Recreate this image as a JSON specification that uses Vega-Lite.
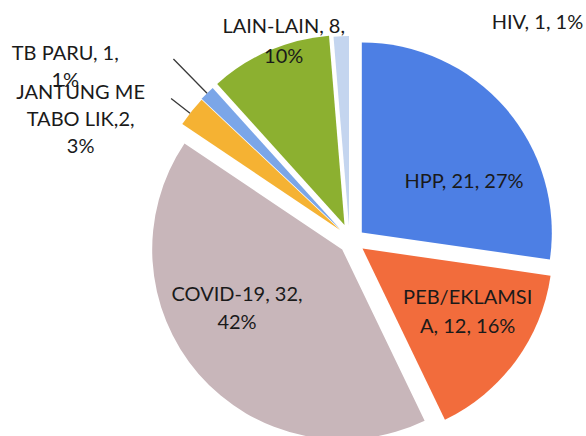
{
  "$schema": "https://vega.github.io/schema/vega-lite/v6.json",
  "width": 380,
  "height": 380,
  "autosize": {"type": "none"},
  "padding": {"left": 162, "top": 51, "right": 44, "bottom": 5},
  "background": "white",
  "config": {"view": {"stroke": null}, "text": {"font": "Lato", "fontSize": 20, "align": "center", "baseline": "middle", "lineBreak": "\n"}},
  "data": {
    "values": [
      {"cause": "HPP", "count": 21, "label": "HPP, 21, 27%"},
      {"cause": "PEB/EKLAMSIA", "count": 12, "label": "PEB/EKLAMSI\nA, 12, 16%"},
      {"cause": "COVID-19", "count": 32, "label": "COVID-19, 32,\n42%"},
      {"cause": "JANTUNG METABOLIK", "count": 2, "label": "JANTUNG ME\nTABO LIK,2,\n3%"},
      {"cause": "TB PARU", "count": 1, "label": "TB PARU, 1,\n1%"},
      {"cause": "LAIN-LAIN", "count": 8, "label": "LAIN-LAIN, 8,\n10%"},
      {"cause": "HIV", "count": 1, "label": "HIV, 1, 1%"}
    ]
  },
  "transform": [
    {"stack": "count", "groupby": [], "as": ["t0", "t1"]},
    {"calculate": "(datum.t0 + datum.t1) / 2", "as": "tm"}
  ],
  "encoding": {
    "color": {
      "field": "cause",
      "type": "nominal",
      "scale": {
        "domain": ["HPP", "PEB/EKLAMSIA", "COVID-19", "JANTUNG METABOLIK", "TB PARU", "LAIN-LAIN", "HIV"],
        "range": ["#4d7fe4", "#f26c3c", "#c8b6ba", "#f5b233", "#7ba6e8", "#8cb030", "#c4d5ef"]
      },
      "legend": null
    }
  },
  "layer": [
    {
      "transform": [{"filter": "datum.cause === 'HPP'"}],
      "layer": [
        {"mark": {"type": "arc", "radius": 190, "xOffset": 9.8, "yOffset": -8.5},
         "encoding": {"theta": {"field": "t0", "type": "quantitative", "stack": null, "scale": {"domain": [0, 77]}}, "theta2": {"field": "t1"}}},
        {"mark": {"type": "text", "radius": 123, "dx": 19, "dy": 22, "lineHeight": 28},
         "encoding": {"theta": {"field": "tm", "type": "quantitative", "stack": null, "scale": {"domain": [0, 77]}}, "text": {"field": "label"}, "color": {"value": "#1a1a1a"}}}
      ]
    },
    {
      "transform": [{"filter": "datum.cause === 'PEB/EKLAMSIA'"}],
      "layer": [
        {"mark": {"type": "arc", "radius": 190, "xOffset": 10.5, "yOffset": 7.6},
         "encoding": {"theta": {"field": "t0", "type": "quantitative", "stack": null, "scale": {"domain": [0, 77]}}, "theta2": {"field": "t1"}}},
        {"mark": {"type": "text", "radius": 136, "dx": 6, "dy": -23, "lineHeight": 29},
         "encoding": {"theta": {"field": "tm", "type": "quantitative", "stack": null, "scale": {"domain": [0, 77]}}, "text": {"field": "label"}, "color": {"value": "#1a1a1a"}}}
      ]
    },
    {
      "transform": [{"filter": "datum.cause === 'COVID-19'"}],
      "layer": [
        {"mark": {"type": "arc", "radius": 190, "xOffset": -9.8, "yOffset": 8.5},
         "encoding": {"theta": {"field": "t0", "type": "quantitative", "stack": null, "scale": {"domain": [0, 77]}}, "theta2": {"field": "t1"}}},
        {"mark": {"type": "text", "radius": 131, "dx": -16, "dy": -32, "lineHeight": 28},
         "encoding": {"theta": {"field": "tm", "type": "quantitative", "stack": null, "scale": {"domain": [0, 77]}}, "text": {"field": "label"}, "color": {"value": "#1a1a1a"}}}
      ]
    },
    {
      "transform": [{"filter": "datum.cause === 'JANTUNG METABOLIK'"}],
      "layer": [
        {"mark": {"type": "arc", "radius": 190, "xOffset": -12, "yOffset": -11},
         "encoding": {"theta": {"field": "t0", "type": "quantitative", "stack": null, "scale": {"domain": [0, 77]}}, "theta2": {"field": "t1"}}},
        {"mark": {"type": "arc", "radius": 214, "radius2": 190, "filled": false, "strokeWidth": 1.3, "thetaOffset": -0.012, "theta2Offset": -0.012, "xOffset": -12, "yOffset": -11},
         "encoding": {"theta": {"field": "tm", "type": "quantitative", "stack": null, "scale": {"domain": [0, 77]}}, "theta2": {"field": "tm"}, "color": {"value": "#3a3a3a"}}},
        {"mark": {"type": "text", "radius": 287, "dx": -47, "dy": 31, "lineHeight": 27},
         "encoding": {"theta": {"field": "tm", "type": "quantitative", "stack": null, "scale": {"domain": [0, 77]}}, "text": {"field": "label"}, "color": {"value": "#1a1a1a"}}}
      ]
    },
    {
      "transform": [{"filter": "datum.cause === 'TB PARU'"}],
      "layer": [
        {"mark": {"type": "arc", "radius": 190, "xOffset": -12, "yOffset": -12},
         "encoding": {"theta": {"field": "t0", "type": "quantitative", "stack": null, "scale": {"domain": [0, 77]}}, "theta2": {"field": "t1"}}},
        {"mark": {"type": "arc", "radius": 238, "radius2": 190, "filled": false, "strokeWidth": 1.3, "xOffset": -12, "yOffset": -12},
         "encoding": {"theta": {"field": "tm", "type": "quantitative", "stack": null, "scale": {"domain": [0, 77]}}, "theta2": {"field": "tm"}, "color": {"value": "#3a3a3a"}}},
        {"mark": {"type": "text", "radius": 324, "dx": -60, "dy": 44, "lineHeight": 27},
         "encoding": {"theta": {"field": "tm", "type": "quantitative", "stack": null, "scale": {"domain": [0, 77]}}, "text": {"field": "label"}, "color": {"value": "#1a1a1a"}}}
      ]
    },
    {
      "transform": [{"filter": "datum.cause === 'LAIN-LAIN'"}],
      "layer": [
        {"mark": {"type": "arc", "radius": 190, "xOffset": -7.5, "yOffset": -16},
         "encoding": {"theta": {"field": "t0", "type": "quantitative", "stack": null, "scale": {"domain": [0, 77]}}, "theta2": {"field": "t1"}}},
        {"mark": {"type": "text", "radius": 210, "dx": 15, "dy": -21, "lineHeight": 30},
         "encoding": {"theta": {"field": "tm", "type": "quantitative", "stack": null, "scale": {"domain": [0, 77]}}, "text": {"field": "label"}, "color": {"value": "#1a1a1a"}}}
      ]
    },
    {
      "transform": [{"filter": "datum.cause === 'HIV'"}],
      "layer": [
        {"mark": {"type": "arc", "radius": 190, "xOffset": -3, "yOffset": -15},
         "encoding": {"theta": {"field": "t0", "type": "quantitative", "stack": null, "scale": {"domain": [0, 77]}}, "theta2": {"field": "t1"}}},
        {"mark": {"type": "text", "radius": 210, "dx": 194, "dy": -8, "lineHeight": 28},
         "encoding": {"theta": {"field": "tm", "type": "quantitative", "stack": null, "scale": {"domain": [0, 77]}}, "text": {"field": "label"}, "color": {"value": "#1a1a1a"}}}
      ]
    }
  ]
}
